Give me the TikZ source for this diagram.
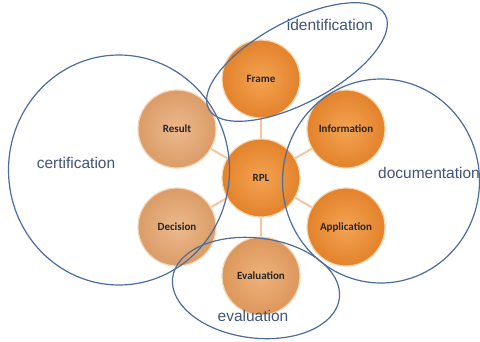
\documentclass[tikz,border=0pt]{standalone}
\usepackage{fontspec}
\setmainfont{Liberation Sans}
\newfontfamily\stagefont{Carlito}
\usetikzlibrary{shapes.geometric, positioning}
\definecolor{darkorange}{HTML}{E3822B}
\definecolor{lightorange}{HTML}{F3A352}
\definecolor{darktan}{HTML}{DA9C68}
\definecolor{lighttan}{HTML}{EDB98C}
\definecolor{rimcol}{HTML}{F8D6B4}
\definecolor{spokecol}{HTML}{F6C4A0}
\definecolor{groupcol}{HTML}{4A6C9E}
\definecolor{grouptext}{HTML}{3E5479}
\tikzstyle{stage} = [circle, minimum size=78pt, inner sep=0pt, draw=rimcol, line width=1.2pt, shading=radial, inner color=lightorange, outer color=darkorange, font=\stagefont\fontsize{11}{13}\selectfont\bfseries, text=black!85]
\tikzstyle{stagetan} = [stage, inner color=lighttan, outer color=darktan]
\tikzstyle{group} = [ellipse, draw=groupcol, line width=1.2pt, inner sep=0pt]
\tikzstyle{grouplabel} = [text=grouptext, font=\fontsize{15.5}{18}\selectfont]
\tikzstyle{spoke} = [spokecol, line width=2pt]

\begin{document}
\begin{tikzpicture}[x=1pt, y=-1pt]
\useasboundingbox (0,0) rectangle (480,341);

\node (rpl) [stage] at (261,178) {RPL};

\node (frame) [stage] at (261,79) {Frame};
\node (info) [stage] at (346,129) {Information};
\node (appl) [stage] at (346,227) {Application};
\node (eval) [stagetan, inner color=lighttan!70!lightorange, outer color=darktan!80!darkorange] at (261,276) {Evaluation};
\node (decis) [stagetan] at (177,227) {Decision};
\node (result) [stagetan] at (177,129) {Result};

\draw [spoke] (rpl) -- (frame);
\draw [spoke] (rpl) -- (info);
\draw [spoke] (rpl) -- (appl);
\draw [spoke] (rpl) -- (eval);
\draw [spoke] (rpl) -- (decis);
\draw [spoke] (rpl) -- (result);

% groups
\node (ident) [group, minimum width=200pt, minimum height=82pt, rotate=28] at (297,62) {};
\node (certif) [group, minimum width=221pt, minimum height=230pt] at (119,170) {};
\node (docum) [group, minimum width=197pt, minimum height=204pt] at (381,181) {};
\node (evalgr) [group, minimum width=168pt, minimum height=100pt, rotate=-7] at (256,288) {};

\node (identlbl) [grouplabel] at (330,25) {identification};
\node (certiflbl) [grouplabel] at (76,163) {certification};
\node (documlbl) [grouplabel] at (429,173) {documentation};
\node (evallbl) [grouplabel] at (253,316) {evaluation};
\end{tikzpicture}
\end{document}
